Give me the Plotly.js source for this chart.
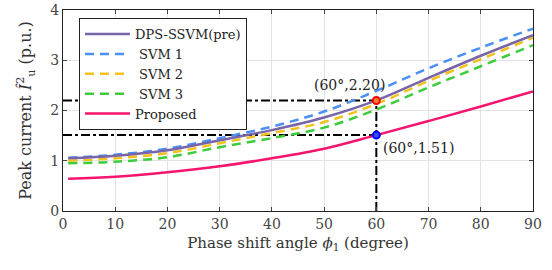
<!DOCTYPE html>
<html><head><meta charset="utf-8">
<script src="https://cdn.plot.ly/plotly-3.0.1.min.js"></script>
<style>html,body{margin:0;padding:0;background:#fff}#c{width:552px;height:270px}</style>
</head><body><div id="c"></div>
<script>
const phi = [1, 10, 20, 30, 40, 50, 60, 70, 80, 90];
const dpsSsvm = [1.05, 1.10, 1.21, 1.41, 1.61, 1.86, 2.20, 2.65, 3.09, 3.50];
const svm1 = [1.06, 1.12, 1.24, 1.45, 1.68, 1.98, 2.39, 2.84, 3.25, 3.63];
const svm2 = [1.00, 1.05, 1.15, 1.35, 1.55, 1.77, 2.13, 2.59, 3.02, 3.45];
const svm3 = [0.95, 0.98, 1.07, 1.27, 1.45, 1.66, 2.02, 2.46, 2.88, 3.30];
const proposed = [0.64, 0.68, 0.77, 0.89, 1.05, 1.24, 1.51, 1.79, 2.08, 2.38];
const names = ['DPS-SSVM(pre)', ' SVM 1', ' SVM 2', ' SVM 3', 'Proposed'];
const markX = 60, markHigh = 2.20, markLow = 1.51;
const labelHigh = '(60°,2.20)', labelLow = '(60°,1.51)';

const F = "DejaVu Serif";
const guide = {color:'#000', width:2, dash:'dashdot'};
const traces = [
  {x:[0, markX], y:[markHigh, markHigh], mode:'lines', line:guide, showlegend:false, hoverinfo:'skip'},
  {x:[0, markX], y:[markLow, markLow], mode:'lines', line:guide, showlegend:false, hoverinfo:'skip'},
  {x:[markX, markX], y:[0, markHigh], mode:'lines', line:guide, showlegend:false, hoverinfo:'skip'},
  {x:phi, y:svm1, name:names[1], legendrank:2, mode:'lines', line:{color:'#4a8ff5', width:2.5, dash:'9px,6px', shape:'spline'}},
  {x:phi, y:svm2, name:names[2], legendrank:3, mode:'lines', line:{color:'#f2c21b', width:2.5, dash:'9px,6px', shape:'spline'}},
  {x:phi, y:svm3, name:names[3], legendrank:4, mode:'lines', line:{color:'#3ccc3c', width:2.5, dash:'9px,6px', shape:'spline'}},
  {x:phi, y:dpsSsvm, name:names[0], legendrank:1, mode:'lines', line:{color:'#7864a8', width:2.5, shape:'spline'}},
  {x:phi, y:proposed, name:names[4], legendrank:5, mode:'lines', line:{color:'#f5146e', width:2.5, shape:'spline'}},
  {x:[markX], y:[markHigh], mode:'markers', showlegend:false, marker:{size:7, color:'#f08030', line:{color:'#ff0000', width:2}}},
  {x:[markX], y:[markLow], mode:'markers', showlegend:false, marker:{size:7, color:'#3050ff', line:{color:'#0000ff', width:2}}}
];

const ax = {
  showline:true, linecolor:'#222', linewidth:1, mirror:'ticks',
  ticks:'inside', ticklen:4, tickcolor:'#444',
  showgrid:true, gridcolor:'#e3e3e3', gridwidth:1, zeroline:false,
  tickfont:{family:F, size:14, color:'#444'}
};
const layout = {
  width:552, height:270,
  margin:{l:63, r:19, t:10, b:59},
  paper_bgcolor:'#fff', plot_bgcolor:'#fff',
  font:{family:F, color:'#333'},
  xaxis:Object.assign({}, ax, {range:[0,90], tickvals:[0,10,20,30,40,50,60,70,80,90],
    title:{text:'Phase shift angle <i>ϕ</i><sub>1</sub> (degree)', font:{family:F, size:15, color:'#333'}, standoff:6}}),
  yaxis:Object.assign({}, ax, {range:[0,4], tickvals:[0,1,2,3,4],
    title:{text:'Peak current <i>Î</i><sup>2</sup><sub>u</sub> (p.u.)', font:{family:F, size:16, color:'#333'}, standoff:14}}),
  legend:{x:0.034, y:0.96, xanchor:'left', yanchor:'top', bgcolor:'#fff', bordercolor:'#222', borderwidth:1,
    font:{family:F, size:13, color:'#222'}, itemwidth:45, tracegroupgap:0},
  annotations:[
    {x:markX, y:markHigh, xref:'x', yref:'y', text:labelHigh, showarrow:false, xanchor:'center', yanchor:'bottom', xshift:-27, yshift:5, font:{family:F, size:14, color:'#222'}},
    {x:markX, y:markLow, xref:'x', yref:'y', text:labelLow, showarrow:false, xanchor:'left', yanchor:'top', xshift:5, yshift:-3, font:{family:F, size:14, color:'#222'}}
  ],
  showlegend:true
};
Plotly.newPlot('c', traces, layout, {displayModeBar:false, staticPlot:true});
</script></body></html>
